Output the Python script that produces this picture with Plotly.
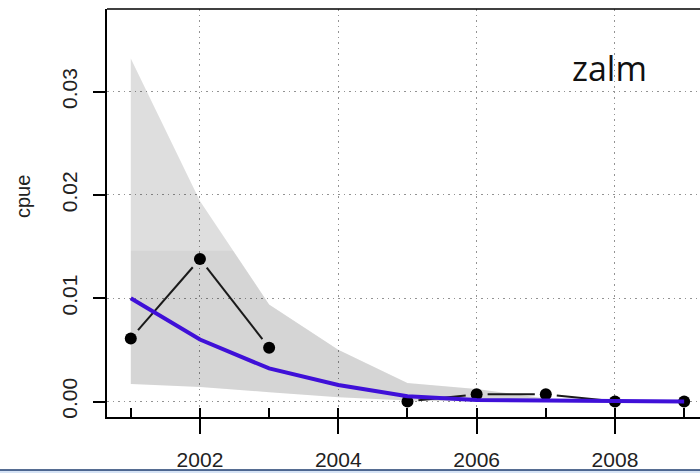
import plotly.graph_objects as go
import math

# ---- data ----
years = [2001, 2002, 2003, 2004, 2005, 2006, 2007, 2008, 2009]
obs_cpue = [0.0061, 0.0138, 0.0052, None, 0.0000, 0.0007, 0.0007, 0.0000, 0.0000]
fit_cpue = [0.0100, 0.0060, 0.0032, 0.0016, 0.0005, 0.00015, 0.0001, 0.00005, 0.0000]
band_upper = [0.0332, 0.0194, 0.0094, 0.0050, 0.0018, 0.0012, 0.0003, 0.0001, 0.0000]
band_lower = [0.0017, 0.0014, 0.0009, 0.0004, 0.0001, 0.0000, 0.0000, 0.0000, 0.0000]
inner_years = [2001, 2002, 2002.48, 2003, 2004, 2005, 2006, 2007, 2008, 2009]
inner_upper = [0.0146, 0.0146, 0.0146, 0.0094, 0.0050, 0.0018, 0.0012, 0.0003, 0.0001, 0.0000]
inner_lower = [0.0017, 0.0014, 0.00115, 0.0009, 0.0004, 0.0001, 0.0000, 0.0000, 0.0000, 0.0000]
major_ticks = [2002, 2004, 2006, 2008]
y_ticks = [0.00, 0.01, 0.02, 0.03]
y_labels = ["0.00", "0.01", "0.02", "0.03"]
panel_label = "zalm"
y_title = "cpue"

# ---- layout geometry ----
W, H = 700, 473
ML, MR, MT, MB = 107, 0, 9, 56
PW, PH = W - ML - MR, H - MT - MB
XR = [2000.656, 2000.656 + PW / 69.17]
YR = [-0.0015, 0.0380]
sx = PW / (XR[1] - XR[0])
sy = PH / (YR[1] - YR[0])

# type="b" style segments: lines stop short of the points
GAP = 11.0
seg_x, seg_y = [], []
for i in range(len(years) - 1):
    y1, y2 = obs_cpue[i], obs_cpue[i + 1]
    if y1 is None or y2 is None:
        continue
    x1, x2 = years[i], years[i + 1]
    L = math.hypot((x2 - x1) * sx, (y2 - y1) * sy)
    if L <= 2 * GAP:
        continue
    t = GAP / L
    seg_x += [x1 + t * (x2 - x1), x2 - t * (x2 - x1), None]
    seg_y += [y1 + t * (y2 - y1), y2 - t * (y2 - y1), None]

fig = go.Figure()

# outer band
fig.add_trace(go.Scatter(x=years + years[::-1], y=band_upper + band_lower[::-1],
                         fill="toself", fillcolor="rgba(0,0,0,0.13)",
                         line=dict(width=0), mode="lines", hoverinfo="skip",
                         showlegend=False))
# inner band
fig.add_trace(go.Scatter(x=inner_years + inner_years[::-1],
                         y=inner_upper + inner_lower[::-1],
                         fill="toself", fillcolor="rgba(0,0,0,0.04)",
                         line=dict(width=0), mode="lines", hoverinfo="skip",
                         showlegend=False))
# observed segments
fig.add_trace(go.Scatter(x=seg_x, y=seg_y, mode="lines",
                         line=dict(color="#1a1a1a", width=2),
                         showlegend=False, hoverinfo="skip"))
# observed points
fig.add_trace(go.Scatter(x=years, y=obs_cpue, mode="markers",
                         marker=dict(color="#000000", size=12),
                         showlegend=False))
# fitted line
fig.add_trace(go.Scatter(x=years, y=fit_cpue, mode="lines",
                         line=dict(color="#3f10d8", width=4),
                         showlegend=False))
# invisible trace on xaxis2 for the inner ticks
fig.add_trace(go.Scatter(x=[years[0]], y=[0], xaxis="x2", mode="markers",
                         marker=dict(opacity=0), showlegend=False,
                         hoverinfo="skip"))

font = "Liberation Sans, Arial, sans-serif"
grid_dash = "1.5px,4px"

fig.update_layout(
    width=W, height=H,
    margin=dict(l=ML, r=MR, t=MT, b=MB, autoexpand=False),
    paper_bgcolor="white", plot_bgcolor="white",
    xaxis=dict(range=XR, tickvals=major_ticks, ticktext=[str(v) for v in major_ticks],
               ticks="outside", ticklen=15, tickwidth=1.5, tickcolor="black",
               showline=True, linecolor="black", linewidth=1.5,
               showgrid=True, gridcolor="#939393", griddash=grid_dash, gridwidth=1.2,
               zeroline=False, ticklabelstandoff=8, automargin=False,
               tickfont=dict(family=font, size=21, color="#222")),
    xaxis2=dict(range=XR, overlaying="x", anchor="y", side="bottom",
                tickvals=years, ticks="inside", ticklen=9, tickwidth=1.5,
                tickcolor="black", showticklabels=False, showgrid=False,
                zeroline=False, showline=False, automargin=False),
    yaxis=dict(range=YR, tickvals=y_ticks, ticktext=y_labels,
               ticks="outside", ticklen=12, tickwidth=1.5, tickcolor="black",
               showline=True, linecolor="black", linewidth=1.5,
               showgrid=True, gridcolor="#939393", griddash=grid_dash, gridwidth=1.2,
               zeroline=False, tickangle=-90, ticklabelstandoff=8, automargin=False,
               tickfont=dict(family=font, size=21, color="#222")),
    annotations=[
        dict(text=panel_label, xref="paper", yref="paper",
             x=(609 - ML) / PW, y=(H - MB - 68) / PH, xanchor="center", yanchor="middle",
             showarrow=False, font=dict(family="Open Sans, sans-serif", size=34, color="#111")),
        dict(text=y_title, xref="paper", yref="paper",
             x=(23 - ML) / PW, y=(H - MB - 196) / PH, xanchor="center", yanchor="middle",
             textangle=-90, showarrow=False,
             font=dict(family=font, size=20, color="#222")),
    ],
    shapes=[
        # top border of the box
        dict(type="line", xref="paper", yref="paper", x0=0, x1=1, y0=1, y1=1,
             line=dict(color="black", width=1.5)),
        # bottom frame strip
        dict(type="rect", xref="paper", yref="paper",
             x0=-ML / PW, x1=1, y0=(H - MB - 474) / PH, y1=(H - MB - 470) / PH,
             fillcolor="#d6e3f5", line=dict(width=0), layer="above"),
        dict(type="line", xref="paper", yref="paper",
             x0=-ML / PW, x1=1, y0=(H - MB - 470) / PH, y1=(H - MB - 470) / PH,
             line=dict(color="#1e3d6e", width=1.5), layer="above"),
    ],
)

fig.write_html("out.html", config={"displayModeBar": False},
               post_script="document.body.style.margin='0px';document.body.style.overflow='hidden';")
